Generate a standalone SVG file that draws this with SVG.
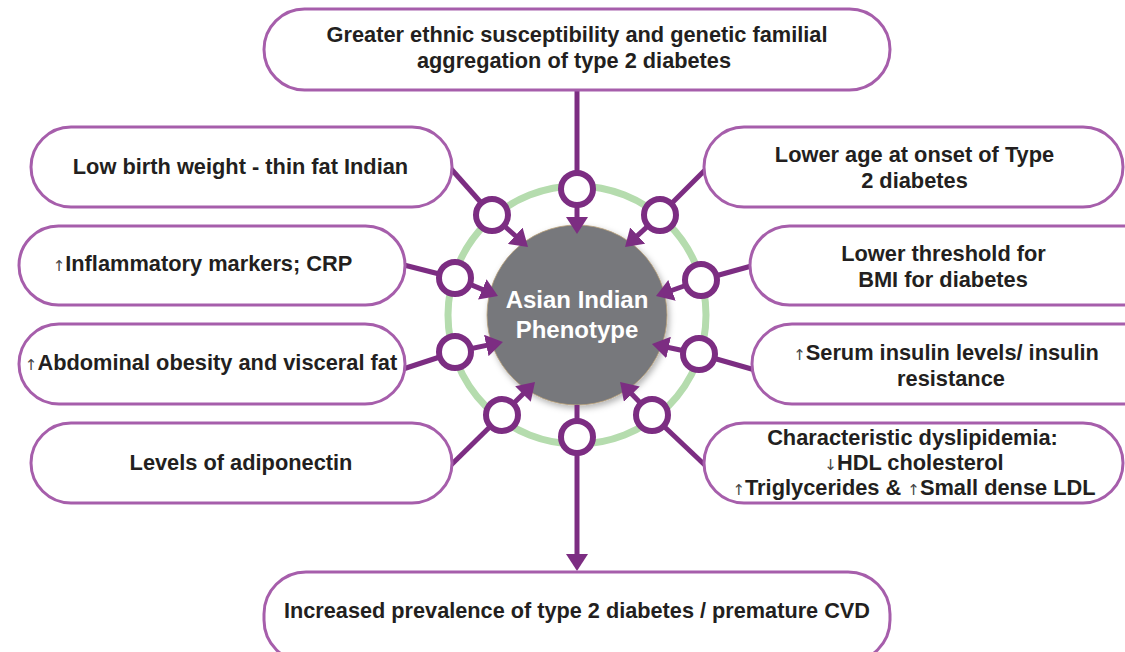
<svg xmlns="http://www.w3.org/2000/svg" width="1125" height="652" viewBox="0 0 1125 652">
<defs>
<style>
.box{fill:#fff;stroke:#a65eab;stroke-width:3}
.t{font-family:"Liberation Sans",Arial,sans-serif;font-weight:bold;font-size:21.8px;fill:#231f20;text-anchor:middle}
.a{font-family:"DejaVu Sans",sans-serif;font-weight:normal;font-size:15px;fill:#444}
.c{font-family:"Liberation Sans",Arial,sans-serif;font-weight:bold;font-size:24px;fill:#fff;text-anchor:middle}
.ln{stroke:#7c2d82;stroke-width:5;fill:none}
.ar{stroke:#7c2d82;stroke-width:5;fill:none;marker-end:url(#ah)}
.sc{fill:#fff;stroke:#7c2d82;stroke-width:6}
</style>
<marker id="ah" markerUnits="userSpaceOnUse" markerWidth="17" markerHeight="22" refX="5" refY="11" orient="auto">
<path d="M0,0 L17,11 L0,22 z" fill="#7c2d82"/>
</marker>
<filter id="sh" x="-20%" y="-20%" width="140%" height="140%">
<feDropShadow dx="2" dy="3" stdDeviation="3" flood-color="#000" flood-opacity="0.3"/>
</filter>
</defs>
<circle id="ring" cx="577" cy="315" r="129" fill="none" stroke="#b5dcae" stroke-width="7"/>
<g id="center">
<circle cx="577" cy="315" r="90" fill="#77787b" stroke="#b8a07a" stroke-width="0.8" filter="url(#sh)"/>
<text class="c" x="577" y="308">Asian Indian</text>
<text class="c" x="577" y="338">Phenotype</text>
</g>
<g id="connectors">
<line class="ln" x1="577" y1="90" x2="577" y2="189"/>
<line class="ar" x1="577" y1="189" x2="577" y2="222"/>
<line class="ln" x1="445" y1="162" x2="492" y2="215"/>
<line class="ar" x1="492" y1="215" x2="519" y2="239"/>
<line class="ln" x1="708" y1="167" x2="660" y2="215"/>
<line class="ar" x1="660" y1="215" x2="633.9" y2="238.9"/>
<line class="ln" x1="400" y1="264" x2="455" y2="278"/>
<line class="ar" x1="455" y1="278" x2="486.9" y2="291.4"/>
<line class="ln" x1="755" y1="265" x2="701" y2="280"/>
<line class="ar" x1="701" y1="280" x2="667.3" y2="292"/>
<line class="ln" x1="400" y1="370" x2="455" y2="352"/>
<line class="ar" x1="455" y1="352" x2="491.2" y2="344.4"/>
<line class="ln" x1="755" y1="370" x2="699" y2="354"/>
<line class="ar" x1="699" y1="354" x2="663.7" y2="346.5"/>
<line class="ln" x1="448" y1="468" x2="502" y2="415"/>
<line class="ar" x1="502" y1="415" x2="526.5" y2="390.5"/>
<line class="ln" x1="708" y1="468" x2="652" y2="415"/>
<line class="ar" x1="652" y1="415" x2="628.4" y2="390.6"/>
<line class="ln" x1="577" y1="405" x2="577" y2="437"/>
<line class="ar" x1="577" y1="437" x2="577" y2="559"/>
<circle class="sc" cx="577" cy="189" r="16"/>
<circle class="sc" cx="492" cy="215" r="16"/>
<circle class="sc" cx="660" cy="215" r="16"/>
<circle class="sc" cx="455" cy="278" r="16"/>
<circle class="sc" cx="701" cy="280" r="16"/>
<circle class="sc" cx="455" cy="352" r="16"/>
<circle class="sc" cx="699" cy="354" r="16"/>
<circle class="sc" cx="502" cy="415" r="16"/>
<circle class="sc" cx="652" cy="415" r="16"/>
<circle class="sc" cx="577" cy="437" r="16"/>
</g>
<g id="n-top">
<rect class="box" x="264" y="9" width="626" height="81" rx="40.5"/>
<text class="t" x="577" y="42" textLength="501" lengthAdjust="spacingAndGlyphs">Greater ethnic susceptibility and genetic familial</text>
<text class="t" x="574" y="68" textLength="314" lengthAdjust="spacingAndGlyphs">aggregation of type 2 diabetes</text>
</g>
<g id="n-lbw">
<rect class="box" x="31" y="127" width="421" height="80" rx="40"/>
<text class="t" x="240.5" y="173.5">Low birth weight - thin fat Indian</text>
</g>
<g id="n-infl">
<rect class="box" x="19" y="226" width="386" height="79" rx="39.5"/>
<text class="t" x="202.5" y="270.5"><tspan class="a">↑</tspan>Inflammatory markers; CRP</text>
</g>
<g id="n-abd">
<rect class="box" x="19" y="324" width="386" height="80" rx="40"/>
<text class="t" x="211" y="369.5"><tspan class="a">↑</tspan>Abdominal obesity and visceral fat</text>
</g>
<g id="n-adipo">
<rect class="box" x="31" y="423" width="421" height="80" rx="40"/>
<text class="t" x="241" y="469.5">Levels of adiponectin</text>
</g>
<g id="n-age">
<rect class="box" x="704" y="127" width="419" height="80" rx="40"/>
<text class="t" x="914.5" y="161.5">Lower age at onset of Type</text>
<text class="t" x="914.5" y="187.5">2 diabetes</text>
</g>
<g id="n-bmi">
<rect class="box" x="750" y="226" width="420" height="79" rx="39.5"/>
<text class="t" x="943.5" y="260.5">Lower threshold for</text>
<text class="t" x="943" y="286.5">BMI for diabetes</text>
</g>
<g id="n-ins">
<rect class="box" x="752" y="324" width="420" height="80" rx="40"/>
<text class="t" x="946" y="359.5"><tspan class="a">↑</tspan>Serum insulin levels/ insulin</text>
<text class="t" x="951" y="385.5">resistance</text>
</g>
<g id="n-dys">
<rect class="box" x="704" y="423" width="419" height="80" rx="40"/>
<text class="t" x="912.5" y="444.5">Characteristic dyslipidemia:</text>
<text class="t" x="914" y="469.5"><tspan class="a">↓</tspan>HDL cholesterol</text>
<text class="t" x="914" y="494.5"><tspan class="a">↑</tspan>Triglycerides &amp; <tspan class="a">↑</tspan>Small dense LDL</text>
</g>
<g id="n-bottom">
<rect class="box" x="264" y="572" width="626" height="90" rx="42"/>
<text class="t" x="577" y="617.5" textLength="586" lengthAdjust="spacingAndGlyphs">Increased prevalence of type 2 diabetes / premature CVD</text>
</g>
</svg>
